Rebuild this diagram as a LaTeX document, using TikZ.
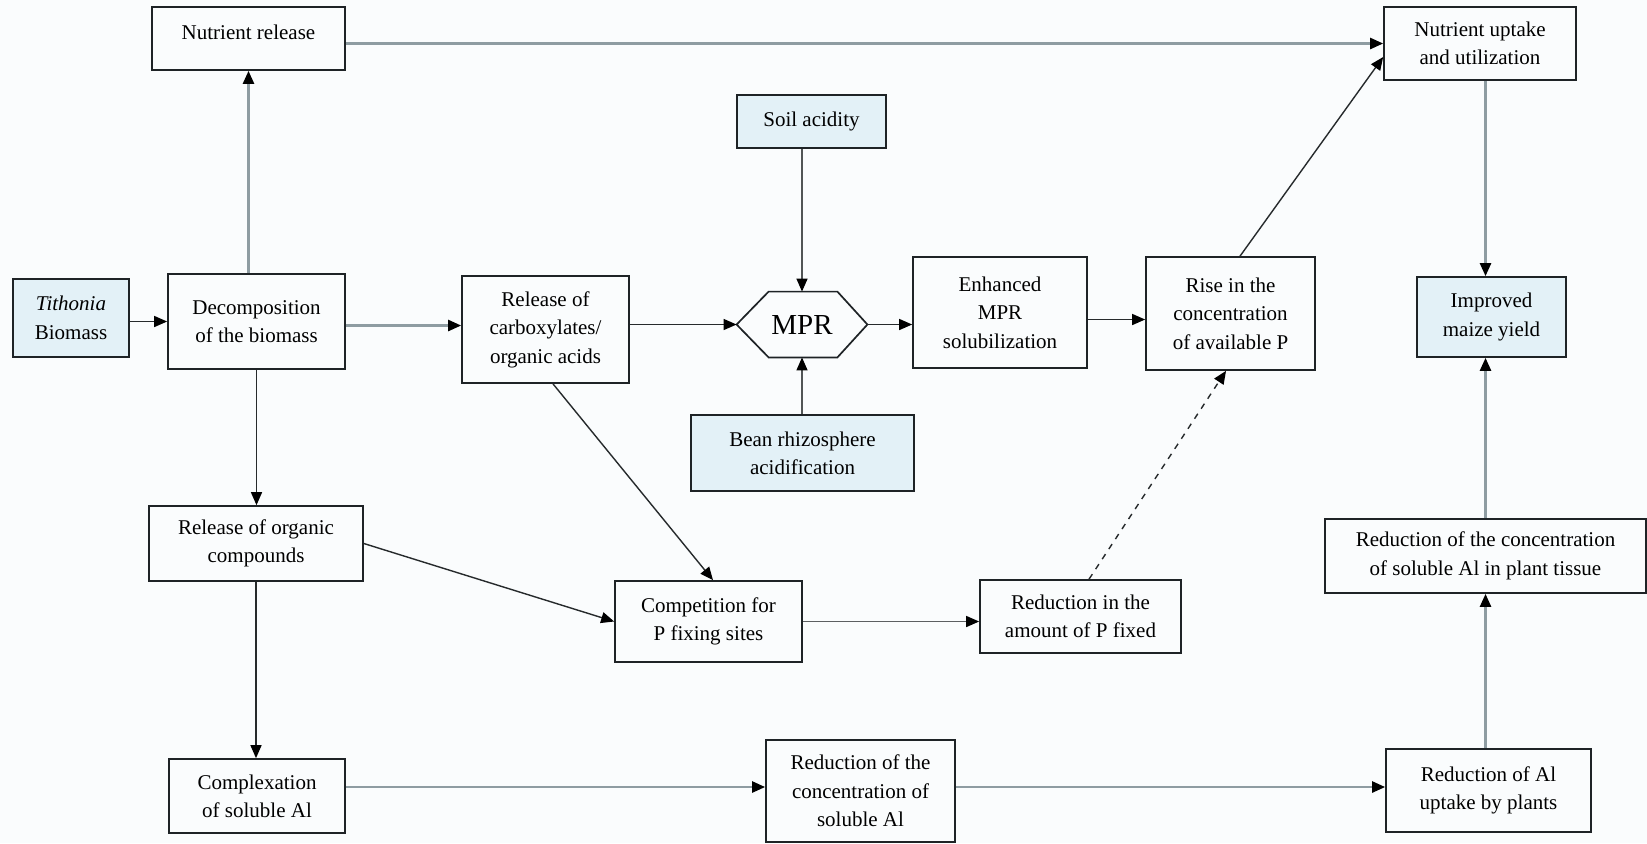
\documentclass[tikz,border=0pt]{standalone}
\usepackage{fontspec}
\setmainfont{Liberation Serif}
\usetikzlibrary{arrows.meta,calc}
\definecolor{boxc}{HTML}{1E2326}
\definecolor{bluec}{HTML}{E3F1F7}
\definecolor{grayc}{HTML}{8E9CA2}
\definecolor{darkc}{HTML}{262A2C}
\definecolor{bgc}{HTML}{FAFCFD}
\newcommand\boxfont{\fontsize{10.5}{14.2}\selectfont}
\tikzset{
  sz/.style 2 args={minimum width=#1*0.5pt, minimum height=#2*0.5pt},
  box/.style={draw=boxc, line width=0.85pt, align=center, inner sep=1pt, font=\boxfont},
  bluebox/.style={box, fill=bluec},
  tipp/.style={-{Triangle[length=6.5pt,width=5.5pt,color=black]}},
  garr/.style={tipp, draw=grayc, line width=1.2pt},
  darr/.style={tipp, draw=darkc, line width=0.7pt},
  dasharr/.style={darr, dashed, dash pattern=on 3pt off 3pt}
}
\begin{document}
\begin{tikzpicture}[x=0.5pt,y=-0.5pt]
\useasboundingbox[fill=bgc] (0,0) rectangle (1647,843);
% nodes
\node[box,sz={193}{63}] (nr) at (248.5,38.5) {\raisebox{6pt}{Nutrient release}};
\node[bluebox,sz={116}{78}] (tith) at (71,318) {\textit{Tithonia}\\Biomass};
\node[box,sz={177}{95}] (dec) at (256.5,321.5) {Decomposition\\of the biomass};
\node[box,sz={167}{107}] (carb) at (545.5,329.5) {Release of\\carboxylates/\\organic acids};
\node[minimum width=65pt, minimum height=32.5pt, inner sep=0pt, font=\fontsize{14.5}{16}\selectfont] (mpr) at (802,324.5) {MPR};
\draw[boxc, line width=0.85pt] (mpr.west) -- ([xshift=16pt]mpr.north west) -- ([xshift=-15pt]mpr.north east) -- (mpr.east) -- ([xshift=-15pt]mpr.south east) -- ([xshift=16pt]mpr.south west) -- cycle;
\node[bluebox,sz={149}{53}] (soil) at (811.5,121.5) {Soil acidity};
\node[bluebox,sz={223}{76}] (bean) at (802.5,453) {Bean rhizosphere\\acidification};
\node[box,sz={174}{111}] (enh) at (1000,312.5) {Enhanced\\MPR\\solubilization};
\node[box,sz={169}{113}] (rise) at (1230.5,313.5) {Rise in the\\concentration\\of available P};
\node[box,sz={192}{73}] (nu) at (1480,43.5) {Nutrient uptake\\and utilization};
\node[bluebox,sz={149}{80}] (imp) at (1491.5,317) {Improved\\maize yield};
\node[box,sz={214}{75}] (org) at (256,543.5) {Release of organic\\compounds};
\node[box,sz={187}{81}] (comp) at (708.5,621.5) {Competition for\\P fixing sites};
\node[box,sz={201}{73}] (ramt) at (1080.5,616.5) {Reduction in the\\amount of P fixed};
\node[box,sz={176}{74}] (cplx) at (257,796) {Complexation\\of soluble Al};
\node[box,sz={189}{102}] (rconc) at (860.5,791) {Reduction of the\\concentration of\\soluble Al};
\node[box,sz={205}{83}] (upt) at (1488.5,790.5) {Reduction of Al\\uptake by plants};
\node[box,sz={321}{74}] (tiss) at (1485.5,556) {Reduction of the concentration\\of soluble Al in plant tissue};
% connectors
\draw[garr] (nr.east |- nu.west) -- (nu.west);
\draw[garr] (dec.north -| nr.south) -- (nr.south);
\draw[darr] (tith.east |- dec.west) -- (dec.west);
\draw[garr] ([yshift=-2pt]dec.east) -- ([yshift=-2pt]dec.east -| carb.west);
\draw[darr] (carb.east |- mpr.west) -- (mpr.west);
\draw[darr] (mpr.east) -- (mpr.east -| enh.west);
\draw[darr] ([yshift=-3.5pt]enh.east) -- ([yshift=-3.5pt]enh.east -| rise.west);
\draw[darr, draw=darkc!80] (mpr.north |- soil.south) -- (mpr.north);
\draw[darr, draw=darkc!80] (mpr.south |- bean.north) -- (mpr.south);
\draw[darr] ([xshift=4.75pt]rise.north) -- ([yshift=-6.75pt]nu.west);
\draw[garr] (nu.south -| tiss.north) -- (imp.north -| tiss.north);
\draw[garr] (tiss.north) -- (tiss.north |- imp.south);
\draw[garr] (upt.north -| tiss.south) -- (tiss.south);
\draw[darr] (dec.south) -- (dec.south |- org.north);
\draw[darr] (org.south) -- (org.south |- cplx.north);
\draw[darr] (org.east) -- (comp.west);
\draw[darr] ([xshift=3.75pt]carb.south) -- ([xshift=2.25pt]comp.north);
\draw[darr, draw=darkc!75] (comp.east) -- (comp.east -| ramt.west);
\draw[dasharr] ([xshift=4.25pt]ramt.north) -- ([xshift=-2.25pt]rise.south);
\draw[garr] ([yshift=4.5pt]cplx.east) -- ([yshift=4.5pt]cplx.east -| rconc.west);
\draw[garr] ([yshift=2pt]rconc.east) -- ([yshift=2pt]rconc.east -| upt.west);
\end{tikzpicture}
\end{document}
